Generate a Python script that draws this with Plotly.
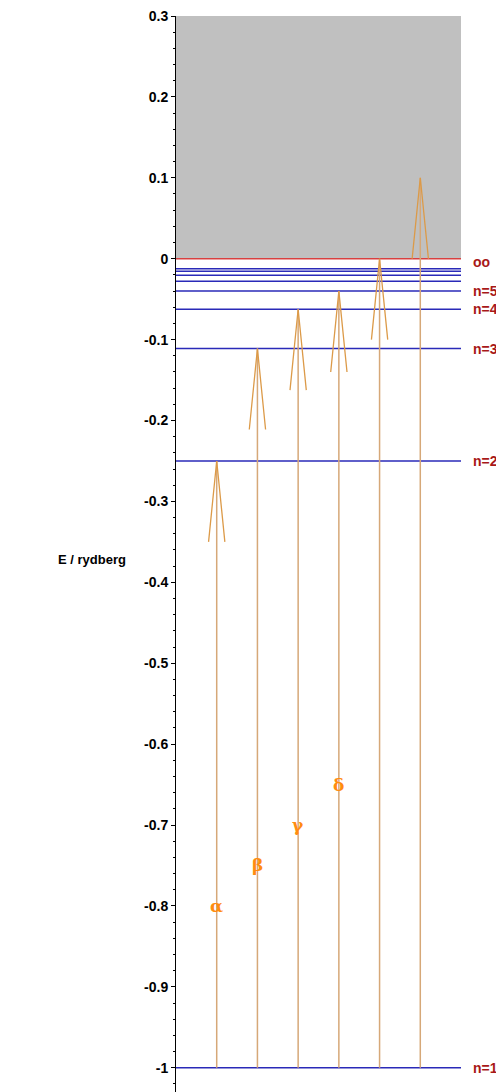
import plotly.graph_objects as go

# Hydrogen energy levels E = -1/n^2 (rydberg)
level_n = [1, 2, 3, 4, 5, 6, 7, 8, 9]
level_E = [-1.0, -0.25, -0.1111, -0.0625, -0.04, -0.0278, -0.0204, -0.0156, -0.0123]
labelled_n = ["n=1", "n=2", "n=3", "n=4", "n=5"]
labelled_E = [-1.0, -0.25, -0.1111, -0.0625, -0.04]
limit_label = "oo"
limit_E = 0.0

# Lyman transitions from n=1
arrow_x = [1, 2, 3, 4, 5, 6]
arrow_tip = [-0.25, -0.1111, -0.0625, -0.04, 0.0, 0.1]
greek = ["α", "β", "γ", "δ"]
greek_E = [-0.80, -0.75, -0.70, -0.65]

X0, X1 = 0, 7
Y0, Y1 = -1.03, 0.3
HEAD_W, HEAD_L = 0.2, 0.1

fig = go.Figure()

# continuum region above the ionisation limit
fig.add_shape(type="rect", x0=X0, x1=X1, y0=limit_E, y1=Y1,
              fillcolor="#c0c0c0", line_width=0, layer="below")

# bound levels
for e in level_E:
    fig.add_trace(go.Scatter(x=[X0, X1], y=[e, e], mode="lines",
                             line=dict(color="#2a2ab8", width=1.5),
                             hoverinfo="skip", showlegend=False))
# ionisation limit
fig.add_trace(go.Scatter(x=[X0, X1], y=[limit_E, limit_E], mode="lines",
                         line=dict(color="#d84040", width=1.5),
                         hoverinfo="skip", showlegend=False))

# transition arrows
for x, tip in zip(arrow_x, arrow_tip):
    fig.add_trace(go.Scatter(x=[x, x], y=[-1.0, tip], mode="lines",
                             line=dict(color="#d6a878", width=1.5),
                             hoverinfo="skip", showlegend=False))
    fig.add_trace(go.Scatter(x=[x - HEAD_W, x, x + HEAD_W],
                             y=[tip - HEAD_L, tip, tip - HEAD_L], mode="lines",
                             line=dict(color="#dc9a48", width=1.3),
                             hoverinfo="skip", showlegend=False))

# greek series labels
for x, g, e in zip(arrow_x, greek, greek_E):
    fig.add_annotation(x=x, y=e, text=g, showarrow=False,
                       font=dict(family="DejaVu Serif", size=17, color="#ff8c10",
                                 weight="bold"))

# level labels on the right
for t, e in zip(labelled_n, labelled_E):
    fig.add_annotation(xref="paper", x=1.036, y=e, text=t, showarrow=False,
                       xanchor="left", yanchor="middle",
                       font=dict(family="Arial", size=14, color="#a81818",
                                 weight="bold"))
fig.add_annotation(xref="paper", x=1.036, y=limit_E - 0.004, text=limit_label,
                   showarrow=False, xanchor="left", yanchor="middle",
                   font=dict(family="Arial", size=14, color="#a81818", weight="bold"))

# axis title
fig.add_annotation(xref="paper", yref="paper", x=-0.42, y=(-0.372 - Y0) / (Y1 - Y0),
                   text="E / rydberg", showarrow=False,
                   font=dict(family="Arial", size=13, color="black", weight="bold"))

fig.update_xaxes(range=[X0, X1], visible=False, showgrid=False)
fig.update_yaxes(range=[Y0, Y1], showgrid=False, zeroline=False,
                 showline=True, linecolor="black", linewidth=1,
                 ticks="outside", ticklen=4, tickcolor="black",
                 tickvals=[0.3, 0.2, 0.1, 0, -0.1, -0.2, -0.3, -0.4, -0.5,
                           -0.6, -0.7, -0.8, -0.9, -1],
                 ticktext=["0.3", "0.2", "0.1", "0", "-0.1", "-0.2", "-0.3", "-0.4",
                           "-0.5", "-0.6", "-0.7", "-0.8", "-0.9", "-1"],
                 tickfont=dict(family="Arial", size=14, color="black", weight="bold"),
                 minor=dict(dtick=0.02, tick0=0, ticks="outside", ticklen=2,
                            tickcolor="black"))

fig.update_layout(width=496, height=1092,
                  margin=dict(l=176, r=35, t=16, b=0),
                  plot_bgcolor="white", paper_bgcolor="white",
                  showlegend=False)

fig.write_html("out.html")
